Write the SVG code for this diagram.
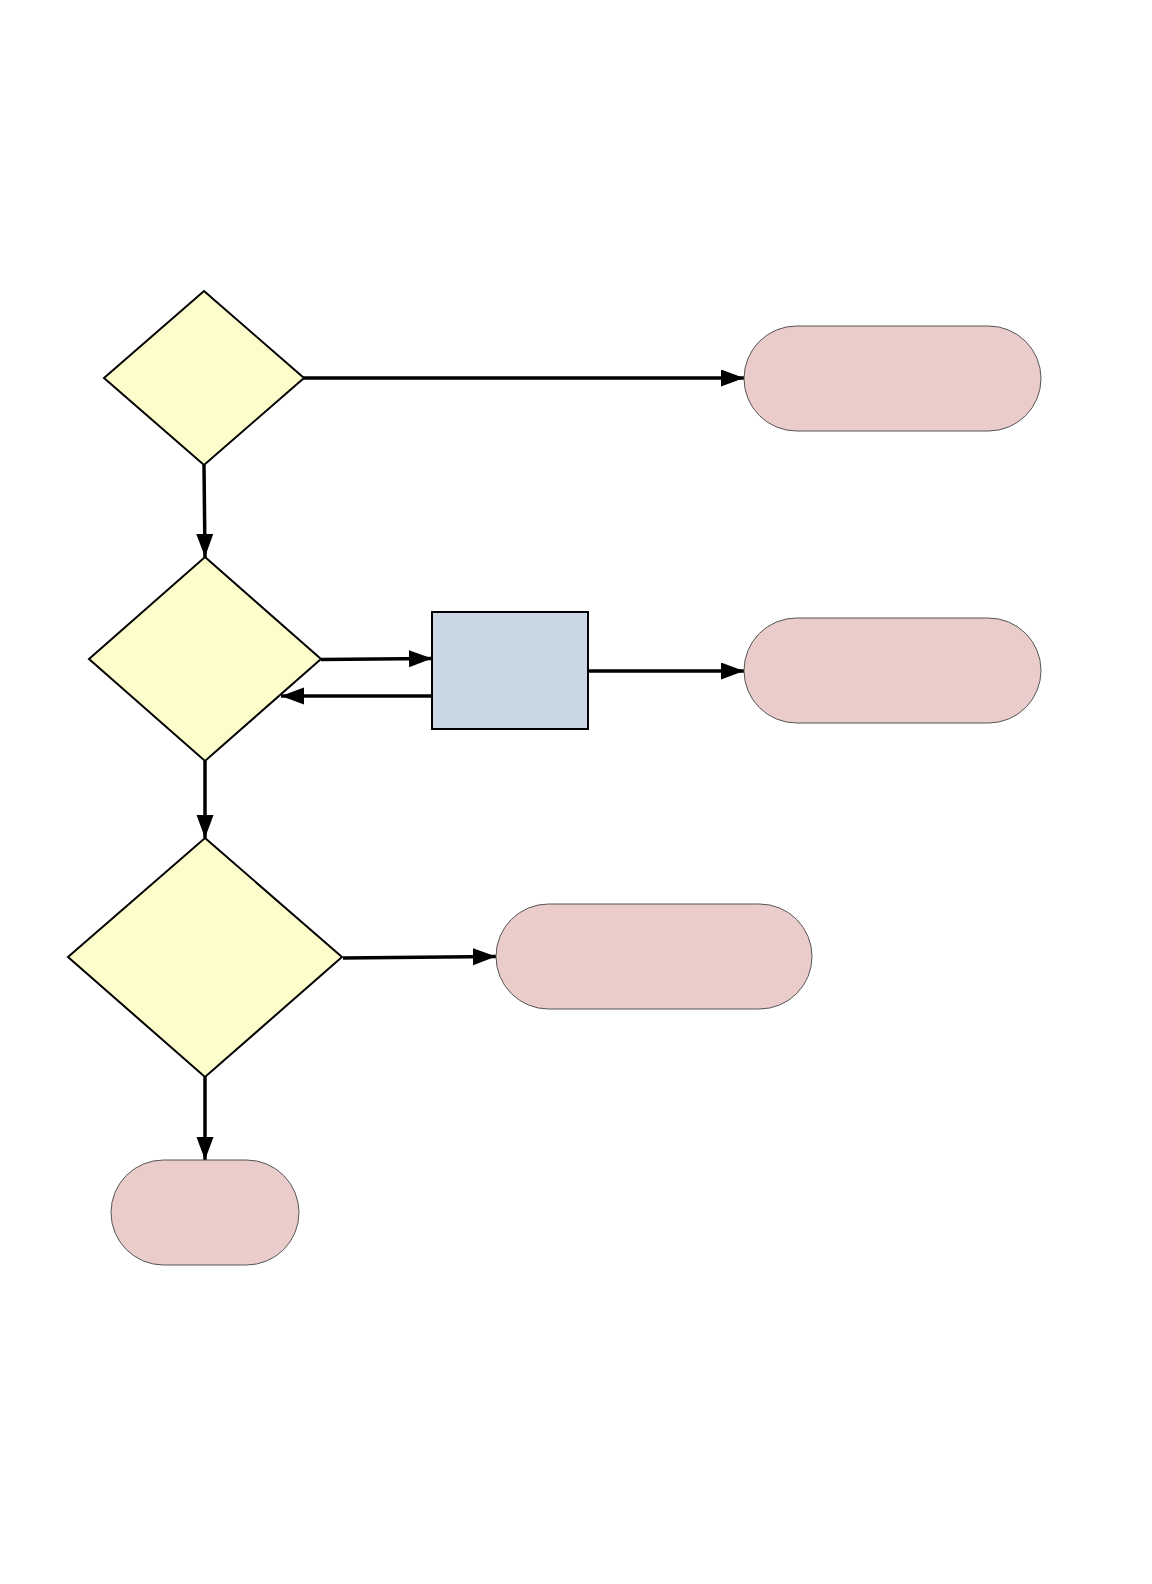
<svg xmlns="http://www.w3.org/2000/svg" width="1152" height="1584" viewBox="0 0 1152 1584">
<style>
.dec{fill:#FDFDCB;stroke:#000;stroke-width:2;stroke-linejoin:miter}
.term{fill:#EACCCA;stroke:#555;stroke-width:1}
.proc{fill:#C9D7E5;stroke:#000;stroke-width:2}
.conn{fill:none;stroke:#000;stroke-width:3.5}
</style>
<defs>
<marker id="arr" markerUnits="userSpaceOnUse" markerWidth="26" markerHeight="18" refX="23" refY="8.5" orient="auto">
<path d="M0,0 L23,8.5 L0,17 z" fill="#000"/>
</marker>
</defs>
<rect width="1152" height="1584" fill="#fff"/>
<g id="connectors">
<line class="conn" x1="303" y1="378" x2="744" y2="378" marker-end="url(#arr)"/>
<line class="conn" x1="204" y1="465" x2="205" y2="557" marker-end="url(#arr)"/>
<line class="conn" x1="321" y1="659.5" x2="432" y2="658.5" marker-end="url(#arr)"/>
<line class="conn" x1="432" y1="696" x2="281" y2="696" marker-end="url(#arr)"/>
<line class="conn" x1="588" y1="671" x2="744" y2="671" marker-end="url(#arr)"/>
<line class="conn" x1="205" y1="761" x2="205" y2="838" marker-end="url(#arr)"/>
<line class="conn" x1="343" y1="958" x2="496" y2="956.5" marker-end="url(#arr)"/>
<line class="conn" x1="205" y1="1077" x2="205" y2="1160" marker-end="url(#arr)"/>
</g>
<g id="decision1"><polygon class="dec" points="204,291 304,378 204,465 104,378"/></g>
<g id="decision2"><polygon class="dec" points="205,557 321,659 205,761 89,659"/></g>
<g id="decision3"><polygon class="dec" points="205,838 342,957 205,1077 68,957"/></g>
<g id="process1"><rect class="proc" x="432" y="612" width="156" height="117"/></g>
<g id="terminal1"><rect class="term" x="744" y="326" width="297" height="105" rx="52.5"/></g>
<g id="terminal2"><rect class="term" x="744" y="618" width="297" height="105" rx="52.5"/></g>
<g id="terminal3"><rect class="term" x="496" y="904" width="316" height="105" rx="52.5"/></g>
<g id="terminal4"><rect class="term" x="111" y="1160" width="188" height="105" rx="52.5"/></g>
</svg>
